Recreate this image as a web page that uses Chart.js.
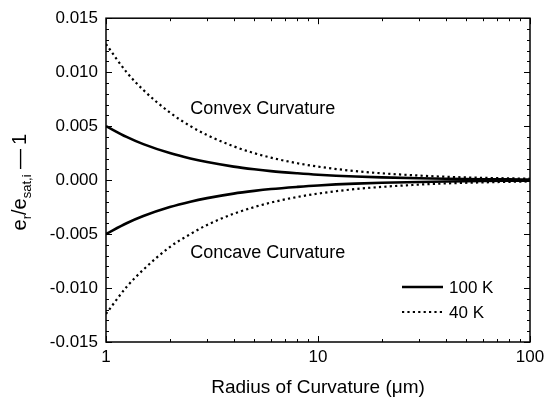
<!DOCTYPE html>
<html>
<head>
<meta charset="utf-8">
<script src="https://cdn.jsdelivr.net/npm/chart.js@4.4.1/dist/chart.umd.min.js"></script>
<style>
  html, body { margin: 0; padding: 0; background: #fff; }
  #wrap { width: 544px; height: 401px; }
</style>
</head>
<body>
<div id="wrap"><canvas id="chart"></canvas></div>
<script>
// Saturation ratio vs radius of curvature, two temperatures, convex (+) and concave (-)

const radius     = [1, 1.25, 1.5, 2, 2.5, 3, 4, 5, 6, 8, 10, 15, 20, 30, 40, 60, 80, 100];
const convex100  = [0.0050, 0.0040, 0.00333, 0.0025, 0.0020, 0.00167, 0.00125, 0.0010, 0.00083, 0.00063, 0.0005, 0.00033, 0.00025, 0.00017, 0.000125, 0.000083, 0.000063, 0.00005];
const concave100 = [-0.0050, -0.0040, -0.00333, -0.0025, -0.0020, -0.00167, -0.00125, -0.0010, -0.00083, -0.00063, -0.0005, -0.00033, -0.00025, -0.00017, -0.000125, -0.000083, -0.000063, -0.00005];
const convex40   = [0.0126, 0.0100, 0.00835, 0.00626, 0.0050, 0.00417, 0.00313, 0.0025, 0.00208, 0.00156, 0.00125, 0.00083, 0.00063, 0.00042, 0.00031, 0.00021, 0.00016, 0.000125];
const concave40  = [-0.0124, -0.0099, -0.0083, -0.0062, -0.0050, -0.00415, -0.00312, -0.0025, -0.00208, -0.00156, -0.00125, -0.00083, -0.00063, -0.00042, -0.00031, -0.00021, -0.00016, -0.000125];

const xLabels = [1, 10, 100];
const DOTS = [2.2, 3.2];
const legendItems = [
    { text: '100 K', dash: [] },
    { text: '40 K', dash: DOTS }
];
const notes = [
    { text: 'Convex Curvature', x: 3, y: 0.0066 },
    { text: 'Concave Curvature', x: 3, y: -0.0068 }
];

const FONT = '"Liberation Sans", Arial, sans-serif';

function series(values, dash, label) {
    return {
        label, data: radius.map((r, i) => ({ x: r, y: values[i] })),
        borderColor: '#000', borderWidth: dash.length ? 2.2 : 2.6, borderDash: dash,
        pointRadius: 0, fill: false, cubicInterpolationMode: 'monotone'
    };
}

// frame, inward ticks, y title, annotations, legend
const decorations = {
    id: 'decorations',
    afterDatasetsDraw(chart) {
        const { ctx, chartArea: a, scales: { x, y } } = chart;
        ctx.save();
        ctx.strokeStyle = '#000';
        ctx.lineWidth = 1.5;
        ctx.strokeRect(a.left, a.top, a.right - a.left, a.bottom - a.top);

        ctx.lineWidth = 1;
        ctx.beginPath();
        for (let d = 1; d <= 100; d *= 10) {
            for (let k = 1; k < 10; k++) {
                const v = d * k;
                if (v > 100) break;
                const px = Math.round(x.getPixelForValue(v)) + 0.5;
                const len = k === 1 ? 6 : 3;
                ctx.moveTo(px, a.bottom); ctx.lineTo(px, a.bottom - len);
                ctx.moveTo(px, a.top); ctx.lineTo(px, a.top + len);
            }
        }
        for (let i = -15; i <= 15; i++) {
            const py = Math.round(y.getPixelForValue(i / 1000)) + 0.5;
            const len = i % 5 === 0 ? 6 : 3;
            ctx.moveTo(a.left, py); ctx.lineTo(a.left + len, py);
            ctx.moveTo(a.right, py); ctx.lineTo(a.right - len, py);
        }
        ctx.stroke();

        // y axis title with subscripts
        ctx.save();
        ctx.translate(26, (a.top + a.bottom) / 2 + 2);
        ctx.rotate(-Math.PI / 2);
        const parts = [
            ['e', 20, 0], ['r', 13, 5], ['/e', 20, 0], ['sat,i', 13, 5], [' \u2014\u2009', 20, 0], ['1', 20, 0]
        ];
        let w = 0;
        parts.forEach(p => { ctx.font = p[1] + 'px ' + FONT; w += ctx.measureText(p[0]).width; });
        let cx = -w / 2;
        ctx.fillStyle = '#000';
        ctx.textBaseline = 'alphabetic';
        parts.forEach(p => {
            ctx.font = p[1] + 'px ' + FONT;
            ctx.fillText(p[0], cx, p[2]);
            cx += ctx.measureText(p[0]).width;
        });
        ctx.restore();

        // annotations
        ctx.font = '18px ' + FONT;
        ctx.fillStyle = '#000';
        ctx.textBaseline = 'middle';
        ctx.textAlign = 'left';
        notes.forEach(n => ctx.fillText(n.text, x.getPixelForValue(n.x) - 17, y.getPixelForValue(n.y)));

        // legend
        ctx.font = '17px ' + FONT;
        legendItems.forEach((item, i) => {
            const ly = 287 + i * 25;
            ctx.beginPath();
            ctx.setLineDash(item.dash);
            ctx.lineWidth = item.dash.length ? 2.2 : 2.6;
            ctx.moveTo(402, ly); ctx.lineTo(443, ly);
            ctx.stroke();
            ctx.setLineDash([]);
            ctx.fillText(item.text, 449, ly + 1);
        });
        ctx.restore();
    }
};

new Chart(document.getElementById('chart').getContext('2d'), {
    type: 'line',
    data: {
        datasets: [
            series(convex100, [], '100 K'),
            series(concave100, [], '100 K'),
            series(convex40, DOTS, '40 K'),
            series(concave40, DOTS, '40 K')
        ]
    },
    options: {
        responsive: true, maintainAspectRatio: false, animation: false,
        layout: { padding: { top: 18, right: 0, left: 0, bottom: 0 } },
        plugins: { legend: { display: false }, tooltip: { enabled: false } },
        scales: {
            x: {
                type: 'logarithmic', min: 1, max: 100,
                grid: { display: false, drawTicks: false },
                border: { display: false },
                afterFit: s => { s.height = 59; s.paddingRight = 14; },
                afterBuildTicks: s => { s.ticks = xLabels.map(v => ({ value: v })); },
                ticks: {
                    color: '#000', font: { family: FONT, size: 17 }, padding: 5,
                    autoSkip: false, maxRotation: 0, callback: v => String(v)
                },
                title: {
                    display: true, text: 'Radius of Curvature (\u03bcm)', color: '#000',
                    font: { family: FONT, size: 19 }, padding: { top: 0, bottom: 2 }
                }
            },
            y: {
                min: -0.015, max: 0.015,
                grid: { display: false, drawTicks: false },
                border: { display: false },
                afterFit: s => { s.width = 106; },
                ticks: {
                    stepSize: 0.005, color: '#000', font: { family: FONT, size: 17 }, padding: 8,
                    callback: v => Math.abs(v) < 1e-9 ? '0.000' : v.toFixed(3)
                }
            }
        }
    },
    plugins: [decorations]
});
</script>
</body>
</html>
